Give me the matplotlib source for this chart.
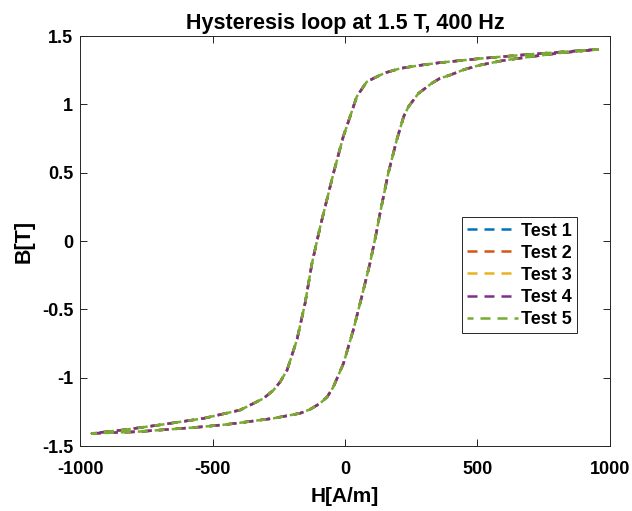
import numpy as np
import matplotlib.pyplot as plt

plt.rcParams['font.family'] = ['Liberation Sans', 'DejaVu Sans']
plt.rcParams['axes.unicode_minus'] = False

# upper (descending) branch of the loop
h_down = [956, 830, 698, 509, 358, 280, 208, 150, 107, 82, 69, 44, 25, 6,
          -6, -44, -94, -125, -151, -182, -219, -245, -270, -308, -345,
          -396, -450, -534, -700, -830, -956]
b_down = [1.402, 1.385, 1.366, 1.335, 1.305, 1.285, 1.263, 1.23, 1.19,
          1.165, 1.129, 1.056, 0.946, 0.836, 0.77, 0.495, 0.105, -0.163,
          -0.455, -0.724, -0.944, -1.03, -1.09, -1.151, -1.187, -1.236,
          -1.26, -1.297, -1.345, -1.38, -1.407]

# lower (ascending) branch
h_up = [-956, -786, -660, -534, -450, -396, -271, -170, -132, -94, -67, -44,
        -6, 31, 63, 94, 117, 132, 163, 195, 221, 239, 258, 277, 302, 327,
        358, 396, 450, 509, 600, 698, 820, 956]
b_up = [-1.407, -1.395, -1.377, -1.358, -1.342, -1.329, -1.297, -1.26,
        -1.231, -1.187, -1.139, -1.066, -0.895, -0.651, -0.407, -0.163, 0.05,
        0.203, 0.495, 0.739, 0.909, 0.982, 1.031, 1.08, 1.117, 1.154, 1.19,
        1.214, 1.255, 1.287, 1.322, 1.348, 1.378, 1.402]

tests = ["Test 1", "Test 2", "Test 3", "Test 4", "Test 5"]
colors = ["#0072BD", "#D95319", "#EDB120", "#7E2F8E", "#77AC30"]
offsets = [0, 0, 0, 0, 1.6]

fig = plt.figure(figsize=(6.32, 5.11), dpi=100)
ax = fig.add_axes([0.127, 0.127, 0.838, 0.8025])

H = np.concatenate([h_down, h_up])
B = np.concatenate([b_down, b_up])
for name, col, off in zip(tests, colors, offsets):
    ax.plot(H, B, linestyle=(off, (4, 2.8)), color=col, lw=1.8, label=name)

ax.set_xlim(-1000, 1000)
ax.set_ylim(-1.5, 1.5)
ax.set_xticks([-1000, -500, 0, 500, 1000])
ax.set_yticks([-1.5, -1, -0.5, 0, 0.5, 1, 1.5])
ax.set_yticklabels(["-1.5", "-1", "-0.5", "0", "0.5", "1", "1.5"])
ax.tick_params(direction='in', top=True, right=True, length=5,
               width=0.6, labelsize=13)
ax.tick_params(axis='x', pad=11)
ax.tick_params(axis='y', pad=5)
for lab in ax.get_xticklabels() + ax.get_yticklabels():
    lab.set_fontweight('bold')
for sp in ax.spines.values():
    sp.set_linewidth(0.7)
    sp.set_color('#262626')

ax.set_title("Hysteresis loop at 1.5 T, 400 Hz", fontsize=15.5,
             fontweight='bold', pad=5)
ax.set_xlabel("H[A/m]", fontsize=15, fontweight='bold', labelpad=6)
ax.set_ylabel("B[T]", fontsize=15.5, fontweight='bold', labelpad=5)

leg = ax.legend(loc='upper left', bbox_to_anchor=(0.72, 0.558),
                fancybox=False, edgecolor='#262626', framealpha=1,
                prop={'weight': 'bold', 'size': 13}, handlelength=2.8,
                handletextpad=0.2, labelspacing=0.28, borderpad=0.3,
                borderaxespad=0)
leg.get_frame().set_linewidth(0.7)

fig.savefig("out.png", dpi=100)
